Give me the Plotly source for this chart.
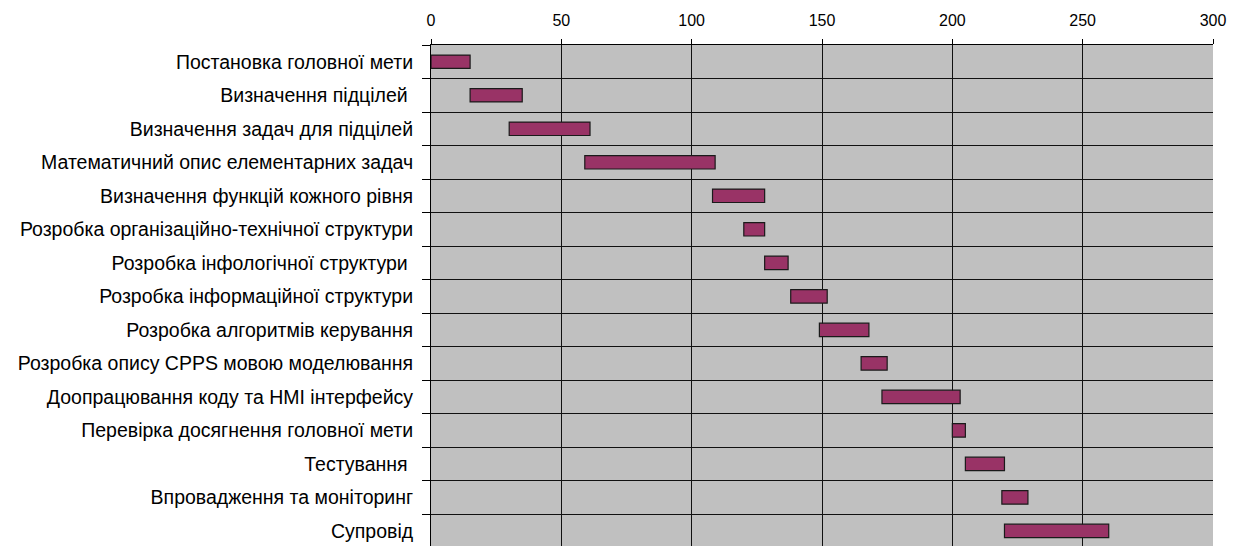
import plotly.graph_objects as go

tasks = [
    "Постановка головної мети",
    "Визначення підцілей ",
    "Визначення задач для підцілей",
    "Математичний опис елементарних задач",
    "Визначення функцій кожного рівня",
    "Розробка організаційно-технічної структури",
    "Розробка інфологічної структури ",
    "Розробка інформаційної структури",
    "Розробка алгоритмів керування",
    "Розробка опису CPPS мовою моделювання",
    "Доопрацювання коду та HMI інтерфейсу",
    "Перевірка досягнення головної мети",
    "Тестування ",
    "Впровадження та моніторинг",
    "Супровід",
]
start = [0, 15, 30, 59, 108, 120, 128, 138, 149, 165, 173, 200, 205, 219, 220]
duration = [15, 20, 31, 50, 20, 8, 9, 14, 19, 10, 30, 5, 15, 10, 40]
x_ticks = [0, 50, 100, 150, 200, 250, 300]

rows = list(range(len(tasks)))
boundaries = [i - 0.5 for i in range(len(tasks) + 1)]

family = "Liberation Sans, Arial, sans-serif"
yfont = dict(family=family, size=19.5, color="#000000")
xfont = dict(family=family, size=16, color="#000000")

fig = go.Figure(
    go.Bar(
        y=rows,
        x=duration,
        base=start,
        orientation="h",
        width=0.4,
        marker=dict(color="#993366", line=dict(color="#1a1a1a", width=1.2)),
        hoverinfo="skip",
    )
)

fig.update_layout(
    width=1231,
    height=538,
    margin=dict(l=423, r=26, t=37, b=0, pad=0),
    paper_bgcolor="#ffffff",
    plot_bgcolor="#C0C0C0",
    showlegend=False,
    font=yfont,
    xaxis=dict(
        side="top",
        range=[0, 300],
        tickmode="array",
        tickvals=x_ticks,
        ticktext=[str(v) for v in x_ticks],
        ticks="outside",
        ticklen=5,
        tickcolor="#000000",
        showgrid=True,
        gridcolor="#111111",
        gridwidth=1,
        showline=True,
        linecolor="#000000",
        linewidth=1,
        zeroline=False,
        tickfont=xfont,
        ticklabelstandoff=7,
        automargin=False,
        fixedrange=True,
    ),
    yaxis=dict(
        range=[14.45, -0.5],
        tickmode="array",
        tickvals=rows,
        ticktext=tasks,
        ticks="",
        showgrid=False,
        zeroline=False,
        showline=True,
        linecolor="#000000",
        linewidth=1,
        tickfont=yfont,
        ticklabelstandoff=13,
        automargin=False,
        minor=dict(
            tickmode="array",
            tickvals=boundaries,
            ticks="outside",
            ticklen=8,
            tickcolor="#000000",
            showgrid=True,
            gridcolor="#111111",
            gridwidth=1,
        ),
        fixedrange=True,
    ),
)

fig.write_html("out.html")
